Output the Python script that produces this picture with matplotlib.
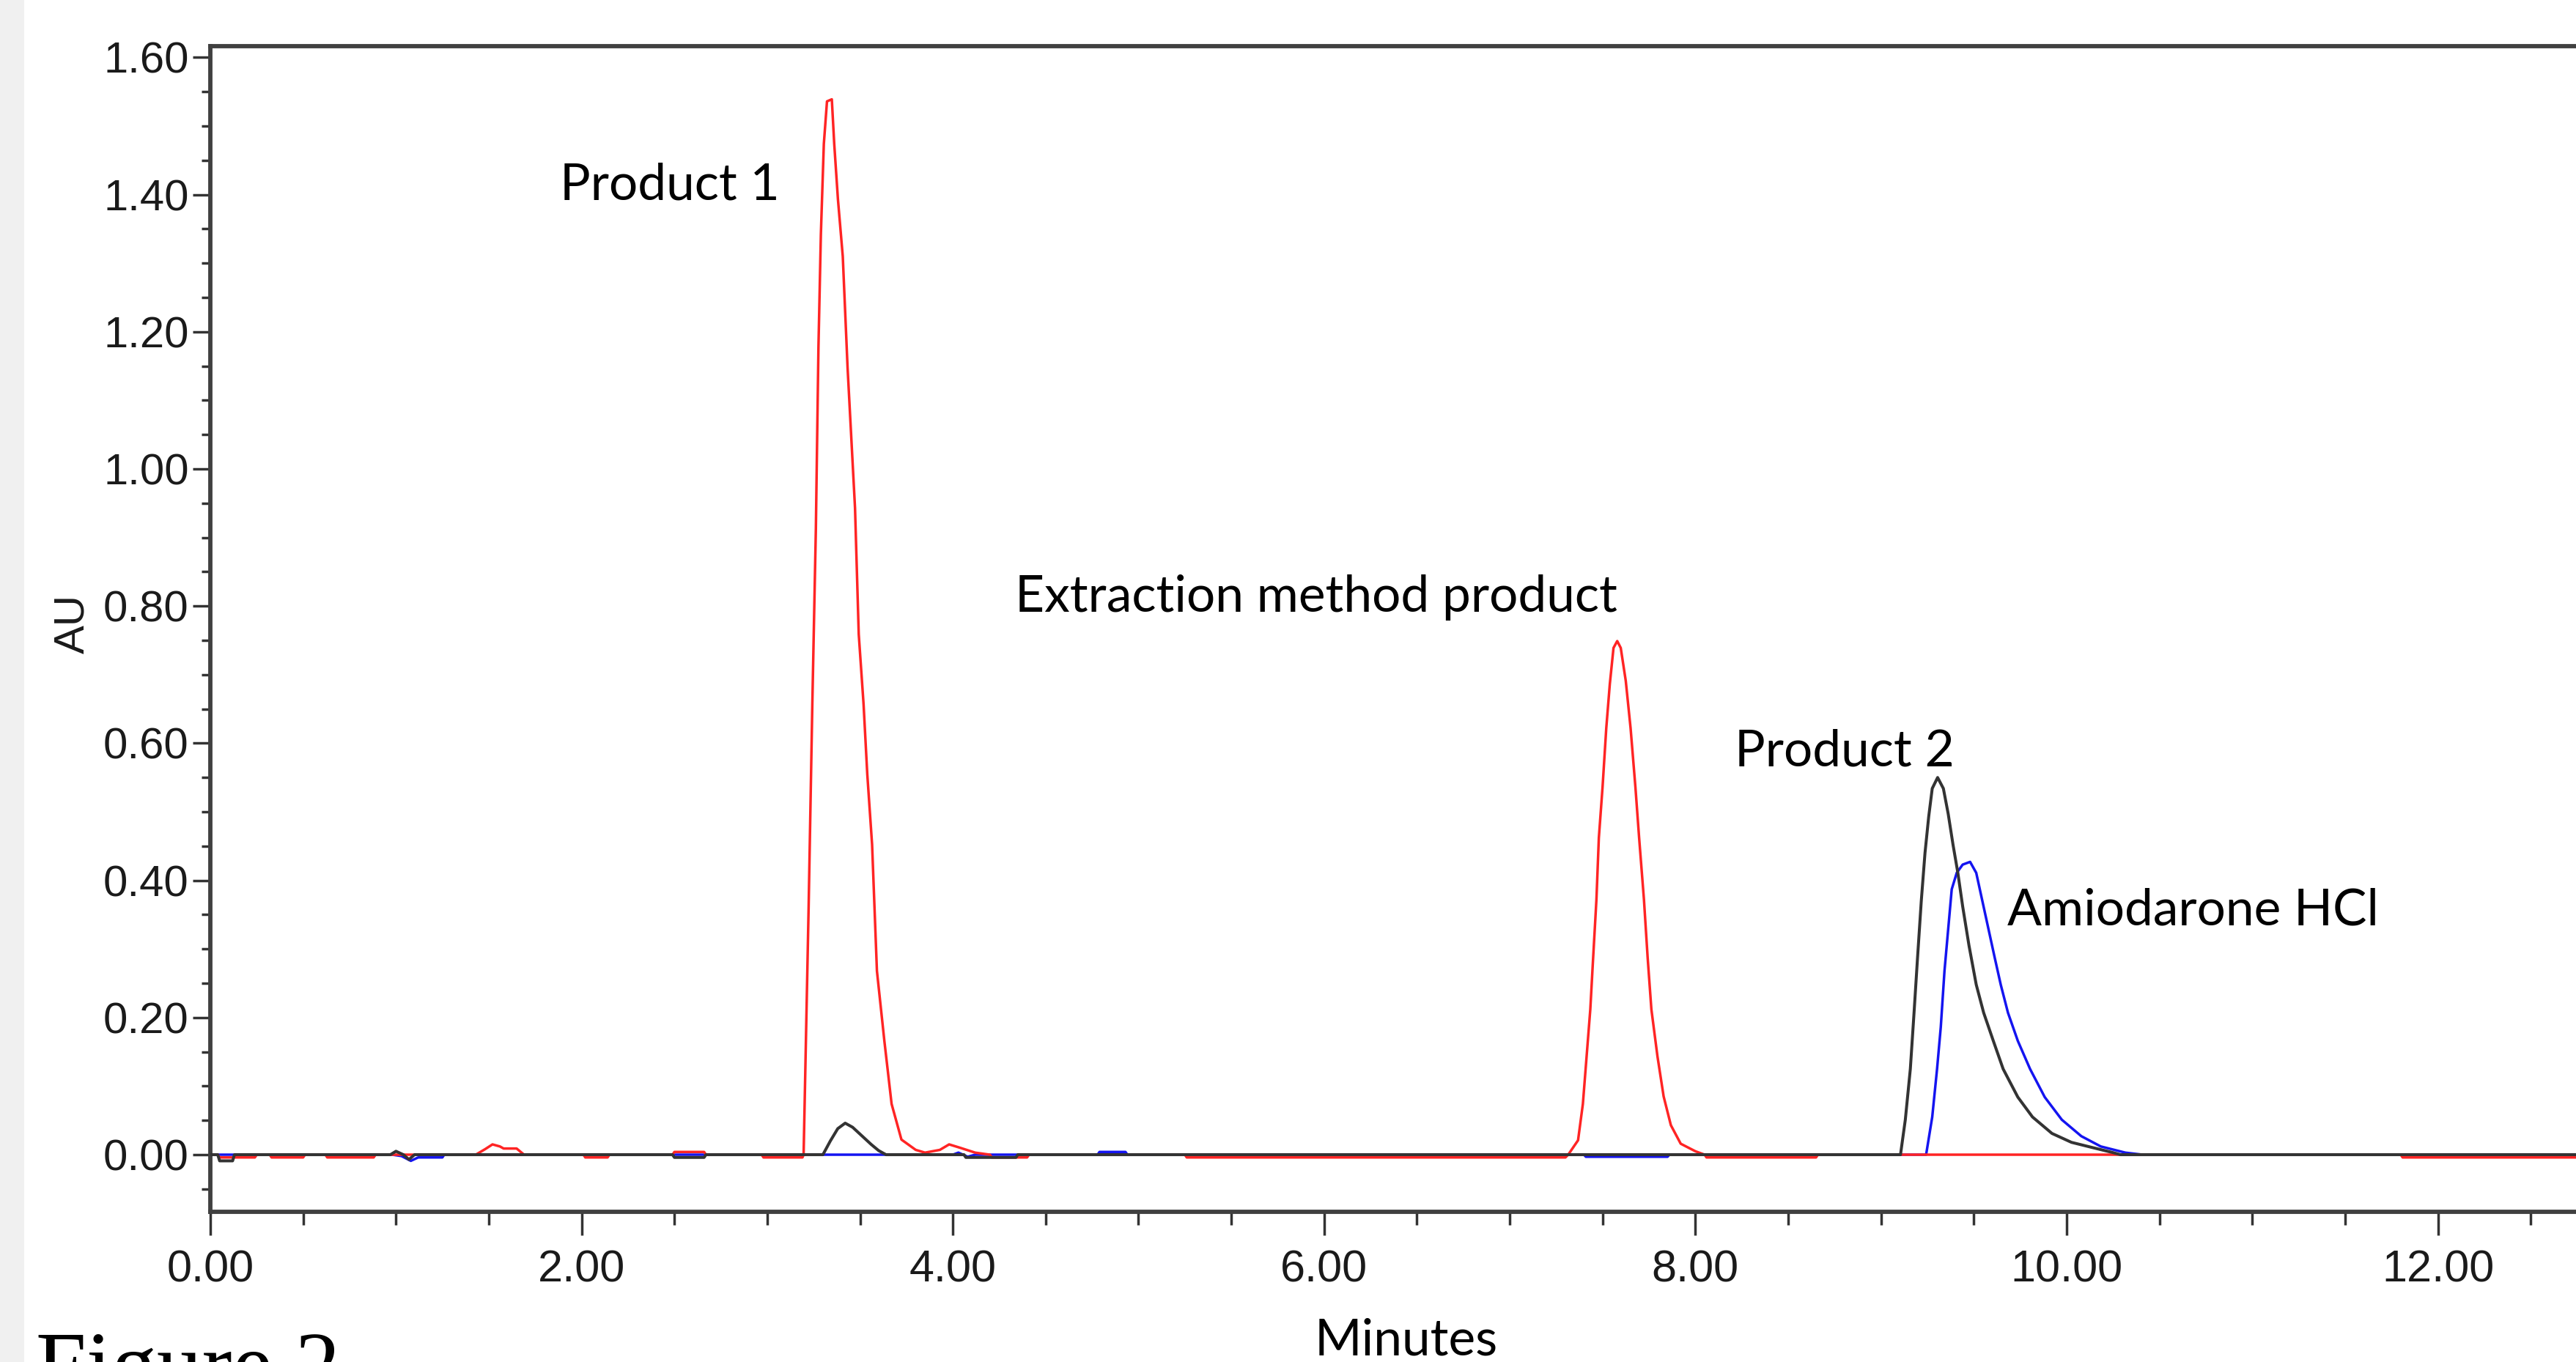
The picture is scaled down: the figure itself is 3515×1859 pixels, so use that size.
import numpy as np
import matplotlib
matplotlib.use("Agg")
import matplotlib.pyplot as plt
from matplotlib.patches import Rectangle
from matplotlib.ticker import MultipleLocator, FormatStrFormatter

# chromatogram traces (minutes, AU)
red_time = [0.00, 0.04, 0.05, 0.24, 0.25, 0.32, 0.33, 0.50, 0.51, 0.62, 0.63, 0.88, 0.89,
            1.43, 1.48, 1.52, 1.56, 1.58, 1.65, 1.69,
            2.01, 2.02, 2.14, 2.15, 2.49, 2.50, 2.66, 2.67, 2.97, 2.98, 3.19,
            3.196, 3.223, 3.243, 3.262, 3.276, 3.289, 3.305, 3.322, 3.348, 3.361,
            3.381, 3.407, 3.433, 3.453, 3.473, 3.493, 3.519, 3.539, 3.565, 3.591,
            3.631, 3.670, 3.723, 3.80, 3.85, 3.93, 3.98, 4.04, 4.12,
            4.20, 4.21, 4.40, 4.41, 5.25, 5.26, 7.30,
            7.315, 7.368, 7.394, 7.414, 7.434, 7.447, 7.467, 7.48, 7.50, 7.52,
            7.539, 7.559, 7.579, 7.598, 7.625, 7.651, 7.677, 7.697, 7.723, 7.743,
            7.763, 7.796, 7.829, 7.868, 7.921, 8.00, 8.05,
            8.06, 8.65, 8.66, 11.80, 11.81, 12.74]
red_au = [0.0, 0.0, -0.004, -0.004, 0.0, 0.0, -0.004, -0.004, 0.0, 0.0, -0.004, -0.004, 0.0,
          0.0, 0.008, 0.015, 0.012, 0.009, 0.009, 0.0,
          0.0, -0.004, -0.004, 0.0, 0.0, 0.004, 0.004, 0.0, 0.0, -0.004, -0.004,
          0.0, 0.36, 0.657, 0.912, 1.178, 1.342, 1.474, 1.536, 1.539, 1.474,
          1.393, 1.31, 1.147, 1.045, 0.943, 0.759, 0.657, 0.555, 0.452, 0.268,
          0.166, 0.074, 0.022, 0.007, 0.003, 0.007, 0.015, 0.010, 0.003,
          0.0, -0.004, -0.004, 0.0, 0.0, -0.004, -0.004,
          0.0, 0.021, 0.074, 0.143, 0.212, 0.276, 0.372, 0.462, 0.536, 0.622,
          0.686, 0.739, 0.749, 0.739, 0.691, 0.622, 0.536, 0.462, 0.372, 0.287,
          0.212, 0.143, 0.085, 0.043, 0.016, 0.005, 0.0,
          -0.004, -0.004, 0.0, 0.0, -0.004, -0.004]

black_time = [0.00, 0.04, 0.05, 0.12, 0.13, 0.97, 1.00, 1.04, 1.07, 1.10,
              2.49, 2.50, 2.66, 2.67,
              3.30, 3.34, 3.38, 3.42, 3.46, 3.50, 3.56, 3.60, 3.64,
              4.06, 4.07, 4.34, 4.35,
              9.105, 9.131, 9.158, 9.178, 9.197, 9.217, 9.237, 9.257, 9.276, 9.305,
              9.336, 9.362, 9.388, 9.414, 9.44, 9.474, 9.513, 9.553, 9.605, 9.658,
              9.737, 9.816, 9.921, 10.026, 10.13, 10.25, 10.29, 12.74]
black_au = [0.0, 0.0, -0.009, -0.009, 0.0, 0.0, 0.005, 0.0, -0.007, 0.0,
            0.0, -0.004, -0.004, 0.0,
            0.0, 0.02, 0.038, 0.046, 0.04, 0.03, 0.015, 0.006, 0.0,
            0.0, -0.004, -0.004, 0.0,
            0.0, 0.051, 0.125, 0.207, 0.288, 0.37, 0.44, 0.493, 0.534, 0.55,
            0.534, 0.497, 0.452, 0.411, 0.362, 0.305, 0.248, 0.207, 0.166, 0.125,
            0.084, 0.055, 0.031, 0.018, 0.011, 0.003, 0.0, 0.0]

blue_time = [0.00, 0.98, 1.03, 1.08, 1.12, 1.25, 1.26,
             4.00, 4.03, 4.08, 4.12, 4.78, 4.79, 4.93, 4.94,
             7.40, 7.41, 7.85, 7.86,
             9.243, 9.276, 9.302, 9.322, 9.342, 9.362, 9.381, 9.408, 9.44, 9.48,
             9.513, 9.546, 9.579, 9.612, 9.645, 9.684, 9.737, 9.803, 9.882, 9.974,
             10.079, 10.184, 10.316, 10.41, 12.74]
blue_au = [0.0, 0.0, -0.002, -0.009, -0.004, -0.004, 0.0,
           0.0, 0.003, -0.003, 0.0, 0.0, 0.004, 0.004, 0.0,
           0.0, -0.003, -0.003, 0.0,
           0.0, 0.055, 0.125, 0.186, 0.268, 0.329, 0.387, 0.411, 0.423, 0.427,
           0.411, 0.37, 0.329, 0.288, 0.248, 0.207, 0.166, 0.125, 0.084, 0.051,
           0.027, 0.012, 0.003, 0.0, 0.0]

peak_labels = ["Product 1", "Extraction method product", "Product 2", "Amiodarone HCl"]
label_time = [1.883, 4.335, 8.212, 9.68]
label_au = [1.393, 0.792, 0.567, 0.335]

W, H = 3515, 1859
fig = plt.figure(figsize=(W / 100, H / 100), dpi=100)
fig.patch.set_facecolor("white")
fig.patches.append(Rectangle((0, 0), 33 / W, 1, transform=fig.transFigure,
                             facecolor="#f0f0f0", edgecolor="none", zorder=-5))

ax = fig.add_axes([287 / W, (H - 1654) / H, 1 - 287 / W, (1654 - 63) / H])
ax.set_xlim(0, 12.744)
ax.set_ylim(-0.0833, 1.6165)

ax.plot(blue_time, blue_au, color="#1414f0", lw=2.5, zorder=1)
ax.plot(red_time, red_au, color="#ff2424", lw=2.5, zorder=2)
ax.plot(black_time, black_au, color="#333333", lw=2.9, zorder=3)

tick_font = ["Liberation Sans", "DejaVu Sans"]
ax.xaxis.set_major_locator(MultipleLocator(2))
ax.xaxis.set_minor_locator(MultipleLocator(0.5))
ax.yaxis.set_major_locator(MultipleLocator(0.2))
ax.yaxis.set_minor_locator(MultipleLocator(0.05))
ax.xaxis.set_major_formatter(FormatStrFormatter("%.2f"))
ax.yaxis.set_major_formatter(FormatStrFormatter("%.2f"))
ax.tick_params(which="both", direction="out", width=2.5, color="#333333")
ax.tick_params(axis="x", which="major", length=23, pad=14)
ax.tick_params(axis="x", which="minor", length=13)
ax.tick_params(axis="y", which="major", length=17, pad=4)
ax.tick_params(axis="y", which="minor", length=9)
for lab in ax.get_xticklabels():
    lab.set_family(tick_font)
    lab.set_fontsize(44)
    lab.set_color("#1a1a1a")
for lab in ax.get_yticklabels():
    lab.set_family(tick_font)
    lab.set_fontsize(43)
    lab.set_color("#1a1a1a")

for side in ["top", "left", "bottom"]:
    ax.spines[side].set_linewidth(4.2)
    ax.spines[side].set_color("#404040")
ax.spines["right"].set_visible(False)

for txt, t, a in zip(peak_labels, label_time, label_au):
    ax.text(t, a, txt, fontsize=50, family=["Lato", "DejaVu Sans"],
            ha="left", va="baseline", color="black")

fig.text(1919 / W, (H - 1850) / H, "Minutes", fontsize=50,
         family=["Lato", "DejaVu Sans"], ha="center", va="baseline")
fig.text(99 / W, 1 - 852 / H, "AU", fontsize=42, family=tick_font,
         rotation=90, ha="center", va="center", color="#1a1a1a")
# the caption sits half outside the picture, as in the source image
fig.text(49 / W, (H - 1904) / H, "Figure 2", fontsize=89,
         family=["Liberation Serif", "DejaVu Serif"], ha="left", va="baseline")

fig.savefig("out.png", dpi=100)
